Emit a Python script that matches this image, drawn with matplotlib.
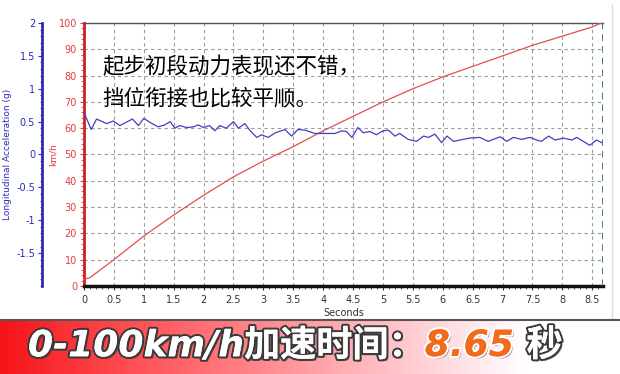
import numpy as np
import matplotlib.pyplot as plt
import matplotlib.patheffects as pe
from matplotlib.ticker import MultipleLocator

plt.rcParams['font.family'] = ['DejaVu Sans', 'Noto Sans CJK SC']

# speed trace (km/h)
speed_t = [0, 0.1, 0.5, 1.0, 1.5, 2.0, 2.5, 3.0, 3.5, 4.0, 4.5, 5.0, 5.5,
           6.0, 6.5, 7.0, 7.5, 8.0, 8.5, 8.65]
speed_v = [2.5, 3.2, 10, 19, 27, 34.5, 41.5, 47.5, 53, 59, 64.5, 70, 75,
           79.5, 83.5, 87.5, 91.5, 95, 98.5, 100]

# longitudinal acceleration (g)
acc_t = [0, 0.12, 0.21, 0.38, 0.49, 0.6, 0.81, 0.91, 1.0, 1.1, 1.24, 1.35,
         1.44, 1.52, 1.6, 1.72, 1.83, 1.91, 2.0, 2.1, 2.19, 2.27, 2.38, 2.5,
         2.58, 2.69, 2.78, 2.89, 2.97, 3.08, 3.2, 3.36, 3.47, 3.58, 3.7,
         3.86, 4.2, 4.31, 4.39, 4.48, 4.58, 4.67, 4.78, 4.89, 5.0, 5.09,
         5.2, 5.28, 5.42, 5.56, 5.68, 5.76, 5.87, 5.98, 6.07, 6.18, 6.29,
         6.45, 6.62, 6.76, 6.96, 7.07, 7.18, 7.32, 7.46, 7.57, 7.65, 7.77,
         7.88, 8.02, 8.16, 8.24, 8.35, 8.46, 8.57, 8.66]
acc_g = [0.64, 0.38, 0.54, 0.47, 0.51, 0.44, 0.54, 0.44, 0.55, 0.49, 0.42,
         0.45, 0.50, 0.40, 0.44, 0.41, 0.42, 0.45, 0.41, 0.44, 0.36, 0.44,
         0.40, 0.50, 0.40, 0.47, 0.36, 0.26, 0.30, 0.26, 0.33, 0.38, 0.28,
         0.38, 0.37, 0.32, 0.32, 0.36, 0.35, 0.26, 0.41, 0.33, 0.35, 0.30,
         0.36, 0.37, 0.28, 0.32, 0.23, 0.20, 0.28, 0.26, 0.31, 0.18, 0.28,
         0.20, 0.22, 0.25, 0.26, 0.20, 0.27, 0.20, 0.26, 0.23, 0.26, 0.22,
         0.20, 0.28, 0.22, 0.25, 0.22, 0.26, 0.20, 0.14, 0.22, 0.18]

x_ticks = np.arange(0, 8.51, 0.5)
acc_ticks = [-1.5, -1, -0.5, 0, 0.5, 1, 1.5, 2]

RED = '#e03c3c'
BLUE = '#2b2bb8'
W, H = 620, 374

fig = plt.figure(figsize=(W / 100, H / 100), dpi=100)
fig.patch.set_facecolor('white')

left, right, top, bottom = 84, 603, 23, 286
ax = fig.add_axes([left / W, 1 - bottom / H, (right - left) / W, (bottom - top) / H])
ax.set_xlim(0, 8.68)
ax.set_ylim(0, 100)
ax.plot(speed_t, speed_v, color='#e05050', lw=0.9, zorder=3)
ax.axvline(8.68, color='#1a6a6a', lw=1.2, ls=(0, (4, 3)), zorder=4)

ax.set_xticks(x_ticks)
ax.set_xticklabels([f"{v:g}" for v in x_ticks])
ax.xaxis.set_minor_locator(MultipleLocator(0.1))
ax.yaxis.set_major_locator(MultipleLocator(10))
ax.yaxis.set_minor_locator(MultipleLocator(2))
ax.grid(True, which='major', color='#9a9a9a', lw=0.8, ls=(0, (3, 3)))
ax.tick_params(axis='x', labelsize=7, colors='#333333', length=3, width=0.8)
ax.tick_params(axis='x', which='minor', length=2, color='#333333')
ax.tick_params(axis='y', labelsize=7, colors=RED, length=3, width=0.8, pad=2)
ax.tick_params(axis='y', which='minor', length=2, color=RED)
ax.spines['left'].set_color('#d02020')
ax.spines['left'].set_linewidth(2)
ax.spines['bottom'].set_color('#111111')
ax.spines['bottom'].set_linewidth(2.5)
ax.spines['top'].set_color('#555555')
ax.spines['top'].set_linewidth(1)
ax.spines['right'].set_visible(False)
ax.set_xlabel('Seconds', fontsize=7, color='#333333', labelpad=2)
ax.set_ylabel('km/h', fontsize=6.5, color=RED, labelpad=1)

ax2 = ax.twinx()
ax2.set_ylim(-2, 2)
ax2.plot(acc_t, acc_g, color='#4040c0', lw=0.9, zorder=3)
ax2.spines['left'].set_position(('axes', -(left - 42) / (right - left)))
ax2.spines['left'].set_color(BLUE)
ax2.spines['left'].set_linewidth(2)
ax2.spines['right'].set_visible(False)
ax2.spines['top'].set_visible(False)
ax2.spines['bottom'].set_visible(False)
ax2.yaxis.set_ticks_position('left')
ax2.yaxis.set_label_position('left')
ax2.set_yticks(acc_ticks)
ax2.set_yticklabels([f"{v:g}" for v in acc_ticks])
ax2.yaxis.set_minor_locator(MultipleLocator(0.1))
ax2.tick_params(axis='y', labelsize=7, colors=BLUE, length=3, width=0.8, pad=2)
ax2.tick_params(axis='y', which='minor', length=1.5, color=BLUE)
ax2.set_ylabel('Longitudinal Acceleration (g)', fontsize=6.5, color=BLUE, labelpad=3)

# annotation
fig.text(102 / W, 1 - 67 / H, '起步初段动力表现还不错，', fontsize=15.5,
         family=['Noto Sans CJK SC'], color='black', va='center', ha='left')
fig.text(102 / W, 1 - 98 / H, '挡位衔接也比较平顺。', fontsize=15.5,
         family=['Noto Sans CJK SC'], color='black', va='center', ha='left')

# faint right border of the picture
fig.add_artist(plt.Line2D([612 / W] * 2, [1 - 318 / H, 1 - 5 / H], color='#dddddd', lw=1))

# bottom banner with gradient
band_top = 321
fig.add_artist(plt.Line2D([0, 1], [1 - (band_top - 1) / H] * 2, color='#555555', lw=1.5))
bax = fig.add_axes([0, 0, 1, (H - band_top) / H])
grad = np.linspace(0, 1, 256)
r = np.clip(0.96 + grad * 0.2, 0, 1)
g = np.clip(0.08 + grad * 1.08, 0, 1)
b = np.clip(0.1 + grad * 1.08, 0, 1)
img = np.dstack([r, g, b])
bax.imshow(img, aspect='auto', extent=[0, 1, 0, 1])
bax.set_xlim(0, 1)
bax.set_ylim(0, 1)
bax.set_axis_off()

fig.canvas.draw()
renderer = fig.canvas.get_renderer()
base_y = 1 - 346 / H
fx = 28 / W
parts = [('0-100km/h加速时间：', 'white', '#3a3a3a'),
         ('8.65 ', '#f26b1d', 'white'),
         ('秒', 'white', '#3a3a3a')]
for txt, col, edge in parts:
    t = fig.text(fx, base_y, txt, fontsize=26, fontweight='heavy', style='italic',
                 family=['DejaVu Sans', 'Noto Sans CJK SC'], color=col,
                 va='center', ha='left')
    t.set_path_effects([pe.SimplePatchShadow(offset=(1.5, -1.5), shadow_rgbFace='#333333', alpha=0.6),
                        pe.withStroke(linewidth=3, foreground=edge),
                        pe.Normal()])
    bb = t.get_window_extent(renderer=renderer)
    fx = bb.x1 / fig.bbox.width

fig.savefig('out.png', dpi=100)
